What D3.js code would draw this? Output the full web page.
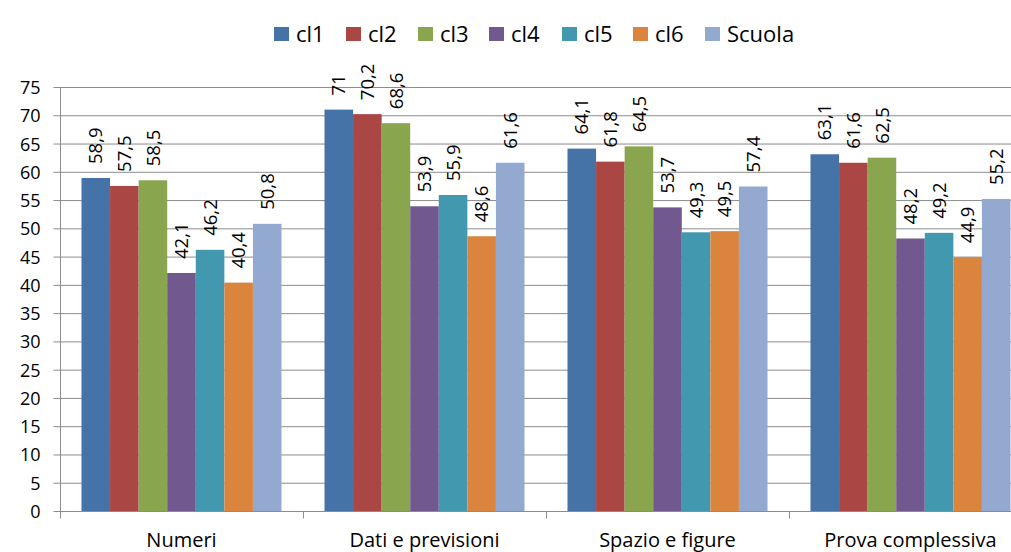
<!DOCTYPE html>
<html><head><meta charset="utf-8">
<script src="https://cdn.jsdelivr.net/npm/d3@7"></script>
<style>body{margin:0;background:#fff;} svg{display:block;font-family:"Open Sans",sans-serif;}</style>
</head><body>
<svg id="c" width="1011" height="552"></svg>
<script>
const categories = ["Numeri","Dati e previsioni","Spazio e figure","Prova complessiva"];
const seriesNames = ["cl1","cl2","cl3","cl4","cl5","cl6","Scuola"];
const cl1 = [58.9, 71, 64.1, 63.1];
const cl2 = [57.5, 70.2, 61.8, 61.6];
const cl3 = [58.5, 68.6, 64.5, 62.5];
const cl4 = [42.1, 53.9, 53.7, 48.2];
const cl5 = [46.2, 55.9, 49.3, 49.2];
const cl6 = [40.4, 48.6, 49.5, 44.9];
const scuola = [50.8, 61.6, 57.4, 55.2];
const yTicks = [0,5,10,15,20,25,30,35,40,45,50,55,60,65,70,75];
const colors = ["#4572A7","#AA4643","#89A54E","#71588F","#4198AF","#DB843D","#93A9CF"];
const seriesValues = [cl1,cl2,cl3,cl4,cl5,cl6,scuola];

(function(){
const svg = d3.select("#c");
const pl = 60, pr = 1032, pt = 87, pb = 511;
const x = d3.scaleBand().domain(categories).range([pl,pr]).padding(0);
const xi = d3.scaleBand().domain(seriesNames).range([21.5, x.bandwidth()-21.5]).padding(0);
const y = d3.scaleLinear().domain([0,75]).range([pb,pt]);
const fmt = v => String(v).replace(".", ",");
const grey = "#8c8c8c";

// gridlines
svg.append("g").selectAll("line").data(yTicks.filter(t=>t>0)).join("line")
  .attr("x1",pl).attr("x2",pr).attr("y1",d=>y(d)+0.5).attr("y2",d=>y(d)+0.5)
  .attr("stroke",grey).attr("stroke-width",1);

// y axis
const ya = svg.append("g").attr("transform",`translate(${pl+0.5},0)`)
  .call(d3.axisLeft(y).tickValues(yTicks).tickSize(7).tickPadding(13).tickFormat(d=>d));
ya.select(".domain").attr("stroke",grey).attr("d",`M0,${pt}V${pb}`);
ya.selectAll(".tick line").attr("stroke",grey);
ya.selectAll(".tick text").attr("font-size",18).attr("fill","#000").attr("dy","0.36em")
  .attr("font-family","'Open Sans',sans-serif");

// bars
const groups = svg.append("g").selectAll("g").data(categories).join("g")
  .attr("transform",d=>`translate(${x(d)},0)`);
seriesNames.forEach((s,si)=>{
  groups.append("rect")
    .attr("x",xi(s)).attr("width",xi.bandwidth())
    .attr("y",(d,ci)=>y(seriesValues[si][ci]))
    .attr("height",(d,ci)=>y(0)-y(seriesValues[si][ci]))
    .attr("fill",colors[si]);
  groups.append("text")
    .attr("transform",(d,ci)=>`translate(${xi(s)+xi.bandwidth()/2},${y(seriesValues[si][ci])-14}) rotate(-90)`)
    .attr("dy","0.36em").attr("text-anchor","start")
    .attr("font-size",18.5).attr("fill","#000")
    .text((d,ci)=>fmt(seriesValues[si][ci]));
});

// x axis
const xa = svg.append("g").attr("transform",`translate(0,${pb+0.5})`);
xa.append("line").attr("x1",pl).attr("x2",pr).attr("stroke",grey);
xa.selectAll("line.tk").data(d3.range(categories.length+1)).join("line").attr("class","tk")
  .attr("x1",i=>pl+i*x.step()+0.5).attr("x2",i=>pl+i*x.step()+0.5).attr("y1",0).attr("y2",7)
  .attr("stroke",grey);
xa.selectAll("text").data(categories).join("text")
  .attr("x",d=>x(d)+x.bandwidth()/2).attr("y",35).attr("text-anchor","middle")
  .attr("font-size",20).attr("fill","#000").text(d=>d);

// legend
const legX = [274,346,418,489,562,633,705];
const lg = svg.append("g").selectAll("g").data(seriesNames).join("g")
  .attr("transform",(d,i)=>`translate(${legX[i]},0)`);
lg.append("rect").attr("x",0).attr("y",27).attr("width",15).attr("height",14).attr("fill",(d,i)=>colors[i]);
lg.append("text").attr("x",22).attr("y",41.5)
  .attr("font-size",22).attr("fill","#000").text(d=>d);
})();
</script>
</body></html>
